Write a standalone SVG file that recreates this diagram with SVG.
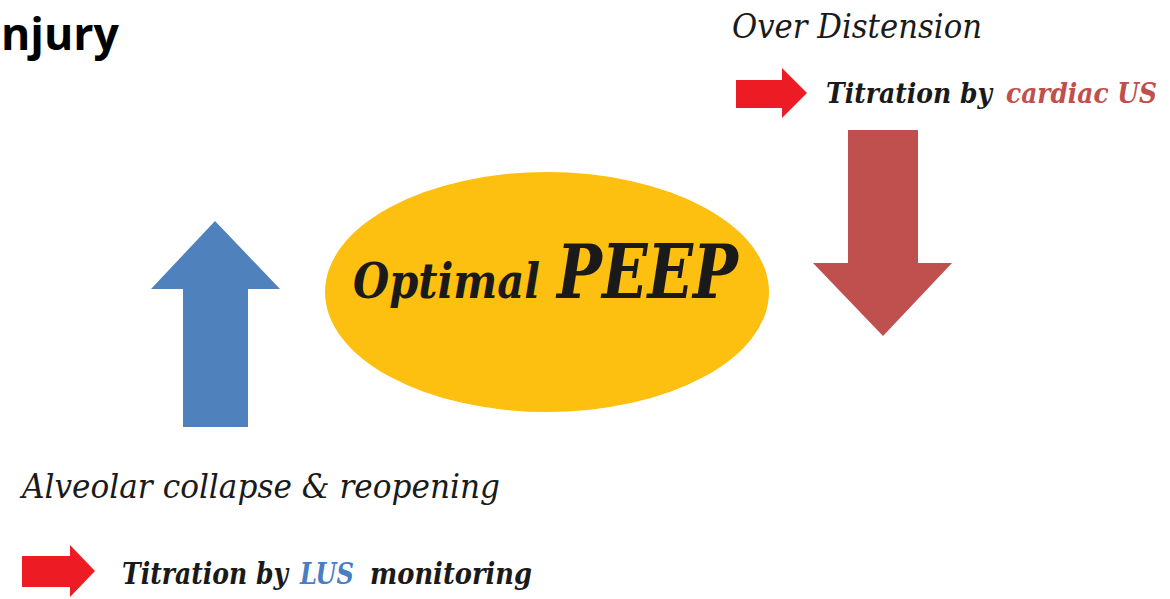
<svg xmlns="http://www.w3.org/2000/svg" width="1170" height="599" viewBox="0 0 1170 599">
<style>
.it{font-family:"DejaVu Serif","Liberation Serif",serif;font-style:italic;fill:#1a1a1a}
.bi{font-family:"DejaVu Serif","Liberation Serif",serif;font-style:italic;font-weight:bold;fill:#1a1a1a}
.red{fill:#ED1C24}
</style>
<rect width="1170" height="599" fill="#ffffff"/>
<g id="title"><text x="1" y="50" font-family="'Open Sans','DejaVu Sans',sans-serif" font-weight="bold" font-size="44" fill="#000" textLength="118" lengthAdjust="spacingAndGlyphs">njury</text></g>
<g id="peep">
<ellipse cx="547" cy="292" rx="222" ry="120" fill="#FDC010"/>
<text class="bi" x="353" y="298" font-size="48" textLength="187" lengthAdjust="spacingAndGlyphs">Optimal</text>
<text class="bi" x="557" y="298" font-size="74" textLength="181" lengthAdjust="spacingAndGlyphs">PEEP</text>
</g>
<g id="connectors">
<polygon id="up-arrow" points="183,427 183,289 151,289 215,221 280,289 248,289 248,427" fill="#4F81BD"/>
<polygon id="down-arrow" points="848,130 918,130 918,263 952,263 883,336 813,263 848,263" fill="#C0504D"/>
<polygon class="red" points="736,80 782,80 782,68 807,93 782,118 782,108 736,108"/>
<polygon class="red" points="22,556 70,556 70,545 95,571 70,597 70,587 22,587"/>
</g>
<g id="over">
<text class="it" x="732" y="38" font-size="33" textLength="250" lengthAdjust="spacingAndGlyphs">Over Distension</text>
<text class="bi" x="992" y="103" font-size="28" text-anchor="end" textLength="166" lengthAdjust="spacingAndGlyphs">Titration by</text>
<text class="bi" x="1157" y="103" font-size="28" text-anchor="end" style="fill:#C0504D" textLength="151" lengthAdjust="spacingAndGlyphs">cardiac US</text>
</g>
<g id="collapse">
<text class="it" x="22" y="498" font-size="33" textLength="478" lengthAdjust="spacingAndGlyphs">Alveolar collapse &amp; reopening</text>
<text class="bi" x="288" y="584" font-size="29" text-anchor="end" textLength="166" lengthAdjust="spacingAndGlyphs">Titration by</text>
<text class="bi" x="300" y="584" font-size="29" style="fill:#4A7EC2" textLength="54" lengthAdjust="spacingAndGlyphs">LUS</text>
<text class="bi" x="370" y="584" font-size="29" textLength="162" lengthAdjust="spacingAndGlyphs">monitoring</text>
</g>
</svg>
